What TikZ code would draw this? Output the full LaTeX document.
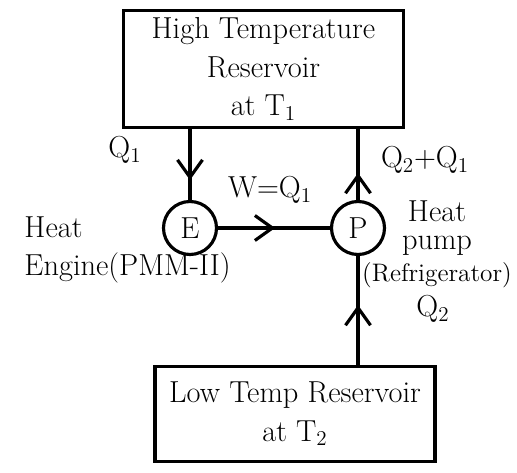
\documentclass[tikz,border=0pt]{standalone}
\usepackage{amsmath}
\usepackage{tikz}
\usetikzlibrary{arrows.meta, positioning, decorations.markings}

\begin{document}
\begin{tikzpicture}[
  box/.style={draw, line width=1.8pt, minimum height=1.9cm, minimum width=5.6cm, align=center, font=\LARGE, inner sep=4pt},
  mach/.style={draw, circle, line width=1.8pt, minimum size=1.06cm, inner sep=0pt, font=\LARGE},
  lbl/.style={font=\LARGE, align=center},
  arr/.style={line width=1.8pt, postaction={decorate}, decoration={markings,
    mark=at position #1 with {\arrow{Straight Barb[length=3.5mm, width=5mm, line width=1.8pt]}}}}
]
\useasboundingbox (0,0) rectangle (10.34,9.44);
\node[box] (hot)  at (5.27,8.06) {High Temperature\\Reservoir\\at T$_1$};
\node[box] (cold) at (5.9,1.16)  {Low Temp Reservoir\\at T$_2$};
\node[mach] (E) at (3.8,4.88) {E};
\node[mach] (P) at (7.16,4.88) {P};
\draw[arr=0.72] (E |- hot.south) -- (E);
\draw[arr=0.51] (E) -- (P);
\draw[arr=0.38] (P) -- (P |- hot.south);
\draw[arr=0.55] (P |- cold.north) -- (P);
\node[lbl] (q1)   at (2.5,6.44)  {Q$_1$};
\node[lbl] (work) at (5.4,5.64)  {W=Q$_1$};
\node[lbl] (q21)  at (8.5,6.24)  {Q$_2$+Q$_1$};
\node[lbl] (q2)   at (8.66,3.26) {Q$_2$};
\node[lbl, align=left] (eng) at (2.55,4.44) {Heat\\Engine(PMM-II)};
\node[lbl] (pump) at (8.74,4.55) {Heat\\[-6pt]pump\\[-4pt]{\Large(Refrigerator)}};
\end{tikzpicture}
\end{document}
